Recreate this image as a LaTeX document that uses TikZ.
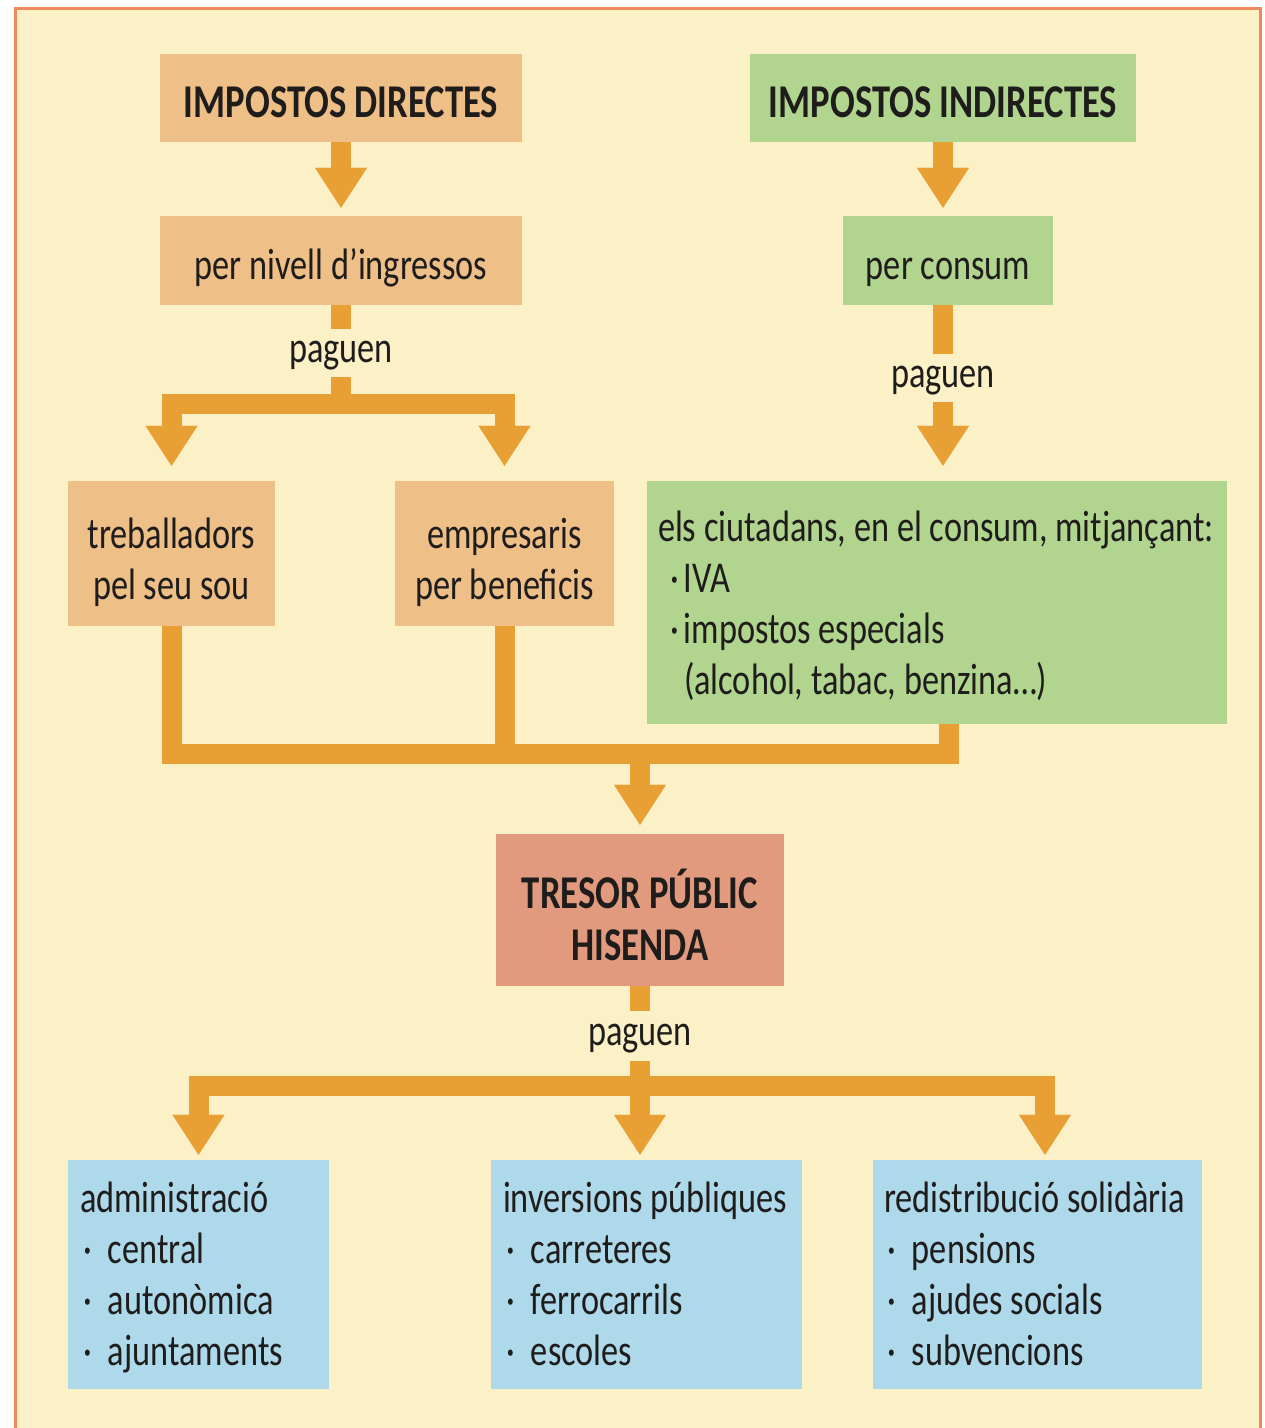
\documentclass[tikz,border=0pt]{standalone}
\usepackage{fontspec}
\setmainfont{Carlito}[FakeStretch=0.78]
\usetikzlibrary{arrows.meta,calc}
\definecolor{bgcream}{HTML}{FCF0C6}
\definecolor{framecol}{HTML}{EC8A5C}
\definecolor{tanc}{HTML}{EEBF87}
\definecolor{grnc}{HTML}{B1D58F}
\definecolor{salmc}{HTML}{E29A7E}
\definecolor{bluc}{HTML}{AED9EA}
\definecolor{arrcol}{HTML}{E8A035}
\definecolor{ink}{HTML}{1F1C1C}
\tikzset{
  basebox/.style={inner sep=0pt, text=ink, font=\fontsize{44}{51}\selectfont},
  tanbox/.style={basebox, fill=tanc},
  grnbox/.style={basebox, fill=grnc},
  salmbox/.style={basebox, fill=salmc},
  blubox/.style={basebox, fill=bluc},
  titlefont/.style={font=\bfseries\fontsize{47}{52}\selectfont},
  oneline/.style={text height=38pt, text depth=0pt},
  twoline/.style={text height=100pt, text depth=9pt},
  fourline/.style={text height=40pt, text depth=163pt},
  conn/.style={draw=arrcol, line width=20pt, line join=miter, line cap=butt},
  arr/.style={conn, -{Triangle[width=52pt,length=40pt,line width=0.1pt]}},
  lab/.style={basebox, minimum height=48pt, text height=24pt, text depth=6pt},
}
\newcommand{\bul}[1]{\hspace*{3pt}\makebox[25pt][l]{·}#1}
\newcommand{\natsp}{\spaceskip=0pt\xspaceskip=0pt\relax}
\begin{document}
\begin{tikzpicture}[x=1pt,y=-1pt]
  \useasboundingbox (0,0) rectangle (1265,1428);
  \fill[white] (0,0) rectangle (1265,1428);
  \begin{scope}
    \clip (0,0) rectangle (1265,1428);
    \draw[draw=framecol, line width=3pt, fill=bgcream] (15,8) rectangle (1260,1450);
  \end{scope}

  % boxes
  \node[tanbox,titlefont,oneline,minimum width=362pt,minimum height=88pt] (dir) at (341,98) {IMPOSTOS DIRECTES};
  \node[grnbox,titlefont,oneline,minimum width=386pt,minimum height=88pt] (ind) at (943,98) {IMPOSTOS INDIRECTES};
  \node[tanbox,oneline,minimum width=362pt,minimum height=89pt] (niv) at (341,260.5) {per nivell d’ingressos};
  \node[grnbox,oneline,minimum width=210pt,minimum height=89pt] (cons) at (948,260.5) {per consum};
  \node[tanbox,twoline,minimum width=207pt,minimum height=145pt,align=center] (treb) at (171.5,553.5) {treballadors\\pel seu sou};
  \node[tanbox,twoline,minimum width=219pt,minimum height=145pt,align=center] (emp) at (504.5,553.5) {empresaris\\per beneficis};
  \node[grnbox,fourline,minimum width=580pt,minimum height=243pt,text width=558pt,align=left] (ciut) at (937,602.5)
    {\natsp els ciutadans, en el consum, mitjançant:\\
     \hspace*{12pt}\makebox[14pt][l]{·}IVA\\
     \hspace*{12pt}\makebox[14pt][l]{·}impostos especials\\
     \hspace*{26pt}(alcohol, tabac, benzina…)};
  \node[salmbox,titlefont,text height=110pt,text depth=10pt,minimum width=288pt,minimum height=152pt,align=center] (tres) at (640,910) {TRESOR PÚBLIC\\HISENDA};
  \node[blubox,fourline,text height=38pt,minimum width=261pt,minimum height=229pt,text width=237pt,align=left] (adm) at (198.5,1274.5)
    {\natsp administració\\\bul{central}\\\bul{autonòmica}\\\bul{ajuntaments}};
  \node[blubox,fourline,text height=38pt,minimum width=311pt,minimum height=229pt,text width=287pt,align=left] (inv) at (646.5,1274.5)
    {\natsp inversions públiques\\\bul{carreteres}\\\bul{ferrocarrils}\\\bul{escoles}};
  \node[blubox,fourline,text height=38pt,minimum width=329pt,minimum height=229pt,text width=307pt,align=left] (red) at (1037.5,1274.5)
    {\natsp redistribució solidària\\\bul{pensions}\\\bul{ajudes socials}\\\bul{subvencions}};

  % labels
  \node[lab] (pag1) at (341,353) {paguen};
  \node[lab] (pag2) at (943,378) {paguen};
  \node[lab,minimum height=50pt] (pag3) at (640,1036) {paguen};

  % junction coordinates
  \coordinate (j1) at (341,404);
  \coordinate (cr) at (949,754);
  \coordinate (m) at (640,754);
  \coordinate (j3) at (640,1086);

  % top connectors
  \draw[arr, shorten >=8pt] (dir.south) -- (niv.north);
  \draw[arr, shorten >=8pt] (ind.south) -- (ind.south |- cons.north);
  \draw[conn] (niv.south) -- (pag1.north);
  \draw[conn] (pag1.south) -- (j1);
  \draw[arr, shorten >=15pt] (j1) -| (treb.north);
  \draw[arr, shorten >=15pt] (j1) -| (emp.north);
  \draw[conn] (ind.south |- cons.south) -- (pag2.north);
  \draw[arr, shorten >=15pt] (pag2.south) -- (pag2.south |- ciut.north);

  % merge to tresor
  \draw[conn] (treb.south) |- (cr) -- (cr |- ciut.south);
  \draw[conn] (emp.south) -- (emp.south |- cr);
  \draw[arr, shorten >=9pt] (m) -- (tres.north);

  % bottom
  \draw[conn] (tres.south) -- (pag3.north);
  \draw[conn] (pag3.south) -- (j3);
  \draw[arr, shorten >=5pt] (j3) -| (adm.north);
  \draw[arr, shorten >=5pt] (j3) -- (j3 |- inv.north);
  \draw[arr, shorten >=5pt] (j3) -| ($(red.north)+(7.5,0)$);
\end{tikzpicture}
\end{document}
